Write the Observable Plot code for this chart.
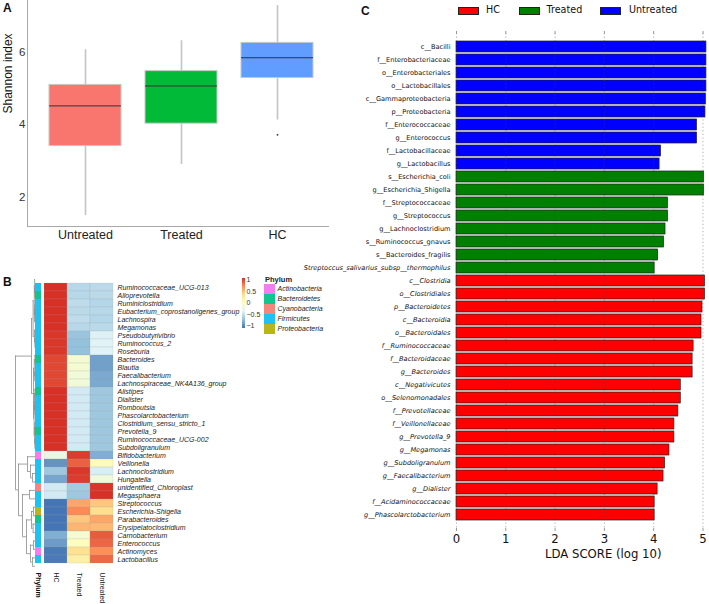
<!DOCTYPE html>
<html><head><meta charset="utf-8">
<script src="https://cdn.jsdelivr.net/npm/d3@7"></script>
<script src="https://cdn.jsdelivr.net/npm/@observablehq/plot@0.6"></script>
<style>
body{margin:0;background:#fff;}
#fig{position:relative;width:709px;height:604px;overflow:hidden;font-family:"Liberation Sans",Arial,sans-serif;color:#111;}
#fig > div{position:absolute;white-space:nowrap;}
</style></head><body><div id="fig"></div>
<script>
// ---------- Panel A: Shannon index boxplots ----------
const groupsA = ["Untreated", "Treated", "HC"];
const whiskerLowA = [1.49, 2.9, 4.13];
const q1A = [3.41, 4.03, 5.29];
const medianA = [4.52, 5.07, 5.85];
const q3A = [5.10, 5.48, 6.26];
const whiskerHighA = [6.07, 6.32, 7.29];
const outlierGroupA = ["HC"];
const outlierValueA = [3.72];
const colorsA = ["#F8766D", "#00BA38", "#619CFF"];
const ticksA = [2, 4, 6];

// ---------- Panel B: heatmap ----------
const rowsB = ["Ruminococcaceae_UCG-013","Alloprevotella","Ruminiclostridium","Eubacterium_coprostanoligenes_group","Lachnospira","Megamonas","Pseudobutyrivibrio","Ruminococcus_2","Roseburia","Bacteroides","Blautia","Faecalibacterium","Lachnospiraceae_NK4A136_group","Alistipes","Dialister","Romboutsia","Phascolarctobacterium","Clostridium_sensu_stricto_1","Prevotella_9","Ruminococcaceae_UCG-002","Subdoligranulum","Bifidobacterium","Veillonella","Lachnoclostridium","Hungatella","unidentified_Chloroplast","Megasphaera","Streptococcus","Escherichia-Shigella","Parabacteroides","Erysipelatoclostridium","Carnobacterium","Enterococcus","Actinomyces","Lactobacillus"];
const phylumB = ["Firmicutes","Bacteroidetes","Firmicutes","Firmicutes","Firmicutes","Firmicutes","Firmicutes","Firmicutes","Firmicutes","Bacteroidetes","Firmicutes","Firmicutes","Firmicutes","Bacteroidetes","Firmicutes","Firmicutes","Firmicutes","Firmicutes","Bacteroidetes","Firmicutes","Firmicutes","Actinobacteria","Firmicutes","Firmicutes","Firmicutes","Cyanobacteria","Firmicutes","Firmicutes","Proteobacteria","Bacteroidetes","Firmicutes","Firmicutes","Firmicutes","Actinobacteria","Firmicutes"];
const columnsB = ["HC", "Treated", "Untreated"];
const hcB = [1.15,1.15,1.15,1.15,1.15,1.15,1.12,1.12,1.12,1.05,1.05,1.05,1.05,1.15,1.15,1.15,1.15,1.15,1.15,1.15,1.15,-0.25,-1.0,-0.7,-0.9,-0.45,-0.45,-1.15,-1.15,-1.15,-1.15,-0.85,-0.95,-1.12,-1.12];
const treatedB = [-0.58,-0.58,-0.55,-0.57,-0.55,-0.58,-0.72,-0.75,-0.75,-0.12,-0.12,-0.17,-0.17,-0.45,-0.45,-0.45,-0.45,-0.45,-0.45,-0.45,-0.45,1.1,0.95,1.12,1.1,-0.68,-0.7,0.65,0.78,0.5,0.58,-0.12,0.02,0.36,0.2];
const untreatedB = [-0.57,-0.57,-0.6,-0.58,-0.6,-0.57,-0.4,-0.37,-0.37,-0.93,-0.93,-0.88,-0.88,-0.7,-0.7,-0.7,-0.7,-0.7,-0.7,-0.7,-0.7,-0.85,0.05,-0.42,-0.2,1.13,1.15,0.5,0.38,0.65,0.57,0.97,0.93,0.76,0.92];
const phylaB = ["Actinobacteria","Bacteroidetes","Cyanobacteria","Firmicutes","Proteobacteria"];
const phylaColorsB = ["#F47CEE","#10C68C","#F4867A","#1CC2F2","#B8B51E"];
const heatStops = [-1.15, -0.767, -0.383, 0, 0.383, 0.767, 1.15];
const heatColors = ["#4575B4","#91BFDB","#E0F3F8","#FFFFBF","#FEE090","#FC8D59","#D73027"];
const legendTicksB = [1, 0.5, 0, -0.5, -1];
// row dendrogram: [height, left, right]; leaves are row indices
const dendroB = [1.0,
  [0.2,
    [0.12,
      [0.06, [0.04, 0, [0.03, 1, 2]], [0.05, [0.03, 3, 4], 5]],
      [0.05, 6, [0.03, 7, 8]]],
    [0.1,
      [0.06, [0.03, 9, 10], [0.04, 11, 12]],
      [0.07, [0.05, [0.03, 13, 14], [0.03, 15, 16]], [0.05, [0.03, 17, 18], [0.03, 19, 20]]]]],
  [0.85,
    [0.4, 21, [0.25, 22, [0.15, 23, 24]]],
    [0.65, [0.3, 25, 26], [0.45, [0.2, [0.1, 27, 28], [0.12, 29, 30]], [0.25, [0.1, 31, 32], [0.15, 33, 34]]]]]];

// ---------- Panel C: LEfSe LDA scores ----------
const untreatedTaxaC = ["c__Bacilli","f__Enterobacteriaceae","o__Enterobacteriales","o__Lactobacillales","c__Gammaproteobacteria","p__Proteobacteria","f__Enterococcaceae","g__Enterococcus","f__Lactobacillaceae","g__Lactobacillus"];
const untreatedLdaC = [5.07,5.07,5.07,5.07,5.06,5.05,4.88,4.88,4.15,4.12];
const treatedTaxaC = ["s__Escherichia_coli","g__Escherichia_Shigella","f__Streptococcaceae","g__Streptococcus","g__Lachnoclostridium","s__Ruminococcus_gnavus","s__Bacteroides_fragilis","Streptoccus_salivarius_subsp__thermophilus"];
const treatedLdaC = [5.02,5.02,4.29,4.29,4.24,4.21,4.09,4.02];
const hcTaxaC = ["c__Clostridia","o__Clostridiales","p__Bacteroidetes","c__Bacteroidia","o__Bacteroidales","f__Ruminococcaceae","f__Bacteroidaceae","g__Bacteroides","c__Negativicutes","o__Selenomonadales","f__Prevotellaceae","f__Veillonellaceae","g__Prevotella_9","g__Megamonas","g__Subdoligranulum","g__Faecalibacterium","g__Dialister","f__Acidaminococcaceae","g__Phascolarctobacterium"];
const hcLdaC = [5.04,5.04,4.99,4.97,4.97,4.81,4.79,4.79,4.55,4.55,4.5,4.42,4.42,4.32,4.23,4.2,4.08,4.02,4.02];
const groupsC = ["HC", "Treated", "Untreated"];
const colorsC = ["#FF0000", "#008000", "#0000FF"];
const italicTaxaC = ["Streptoccus_salivarius_subsp__thermophilus"];
const ticksC = [0, 1, 2, 3, 4, 5];

// ---------- helpers ----------
const fig = document.getElementById("fig");
function add(left, top, content, css) {
  const d = document.createElement("div");
  d.style.left = left + "px"; d.style.top = top + "px";
  if (css) d.style.cssText += css;
  if (typeof content === "string") d.innerHTML = content; else if (content) d.appendChild(content);
  fig.appendChild(d);
  return d;
}
const svgStyle = (ff) => `overflow:visible;max-width:none;background:transparent;font-family:${ff};`;
const plain = d => String(d);

// ---------- Panel A ----------
const dataA = groupsA.map((g, i) => ({group: g, lo: whiskerLowA[i], q1: q1A[i], med: medianA[i], q3: q3A[i], hi: whiskerHighA[i]}));
const outA = outlierGroupA.map((g, i) => ({group: g, value: outlierValueA[i]}));
const plotA = Plot.plot({
  width: 340, height: 250, marginLeft: 27, marginRight: 12, marginTop: 0, marginBottom: 24,
  style: svgStyle("'Liberation Sans', Arial, sans-serif"),
  x: {type: "band", domain: groupsA, paddingInner: 0.246, paddingOuter: 0.1875, align: 0.59, label: null},
  y: {domain: [1.19, 7.43], label: null},
  color: {domain: groupsA, range: colorsA},
  marks: [
    Plot.ruleX(dataA, {x: "group", y1: "lo", y2: "q1", stroke: "#c4c4c4", strokeWidth: 1.6}),
    Plot.ruleX(dataA, {x: "group", y1: "q3", y2: "hi", stroke: "#c4c4c4", strokeWidth: 1.6}),
    Plot.barY(dataA, {x: "group", y1: "q1", y2: "q3", fill: "group", stroke: "#c8c8c8", strokeWidth: 1}),
    Plot.tickY(dataA, {x: "group", y: "med", stroke: "#333", strokeWidth: 1}),
    Plot.dot(outA, {x: "group", y: "value", r: 0.9, fill: "#333", stroke: null}),
    Plot.frame({anchor: "left", stroke: "#a8a8a8", strokeWidth: 1}),
    Plot.frame({anchor: "bottom", stroke: "#a8a8a8", strokeWidth: 1}),
    Plot.axisY({ticks: ticksA, tickFormat: plain, tickSize: 0, tickPadding: 2, fontSize: 11.5, fill: "#333", label: null}),
    Plot.axisX({tickSize: 0, tickPadding: 4, fontSize: 12.5, fill: "#222", label: null}),
    Plot.text(["Shannon index"], {frameAnchor: "left", rotate: -90, dx: -19, fontSize: 12, fill: "#111"})
  ]
});
add(0, 0, plotA, "width:340px;height:250px;");

// ---------- Panel B ----------
const heatData = [];
rowsB.forEach((r, i) => {
  heatData.push({row: r, col: "HC", v: hcB[i]});
  heatData.push({row: r, col: "Treated", v: treatedB[i]});
  heatData.push({row: r, col: "Untreated", v: untreatedB[i]});
});
const phylumData = rowsB.map((r, i) => ({row: r, col: "Phylum", phylum: phylumB[i]}));
const bH = 334, bTop = 5, bBottom = 34;

// dendrogram segments derived from the tree
const vSeg = [], hSeg = [];
function walk(node) {
  if (typeof node === "number") return {y: node, h: 0};
  const [h, a, b] = node;
  const A = walk(a), B = walk(b);
  vSeg.push({h, y1: A.y, y2: B.y});
  hSeg.push({y: A.y, h1: A.h, h2: h});
  hSeg.push({y: B.y, h1: B.h, h2: h});
  return {y: (A.y + B.y) / 2, h};
}
walk(dendroB);
const plotDendro = Plot.plot({
  width: 36, height: bH, marginLeft: 15, marginRight: 1, marginTop: bTop, marginBottom: bBottom,
  style: svgStyle("'Liberation Sans', Arial"),
  x: {domain: [1, 0], axis: null},
  y: {domain: [-0.5, rowsB.length - 0.5], reverse: true, axis: null},
  marks: [
    Plot.ruleX(vSeg, {x: "h", y1: "y1", y2: "y2", stroke: "#8a8a8a", strokeWidth: 0.8}),
    Plot.ruleY(hSeg, {y: "y", x1: "h1", x2: "h2", stroke: "#8a8a8a", strokeWidth: 0.8})
  ]
});
add(0, 270, plotDendro, "width:36px;height:334px;");

const plotStrip = Plot.plot({
  width: 6.5, height: bH, marginLeft: 0, marginRight: 0, marginTop: bTop, marginBottom: bBottom,
  style: svgStyle("'Liberation Sans', Arial"),
  x: {domain: ["Phylum"], padding: 0, label: null},
  y: {domain: rowsB, padding: 0, axis: null},
  color: {domain: phylaB, range: phylaColorsB},
  marks: [
    Plot.cell(phylumData, {x: "col", y: "row", fill: "phylum", inset: 0}),
    Plot.axisX({anchor: "bottom", tickSize: 0, tickPadding: 2, tickRotate: 90, fontSize: 7, fontWeight: "bold", label: null})
  ]
});
add(35, 270, plotStrip, "width:6.5px;height:334px;");

const plotHeat = Plot.plot({
  width: 350, height: bH, marginLeft: 43, marginRight: 237, marginTop: bTop, marginBottom: bBottom,
  style: svgStyle("'Liberation Sans', Arial, sans-serif"),
  x: {domain: columnsB, padding: 0, label: null},
  y: {domain: rowsB, padding: 0, label: null},
  color: {type: "linear", domain: heatStops, range: heatColors},
  marks: [
    Plot.cell(heatData, {x: "col", y: "row", fill: "v", inset: 0, stroke: "#a0a0a0", strokeWidth: 0.3, strokeOpacity: 0.6}),
    Plot.axisY({anchor: "right", tickSize: 0, tickPadding: 4, fontSize: 7, fontStyle: "italic", fill: "#222", label: null}),
    Plot.axisX({anchor: "bottom", tickSize: 0, tickPadding: 2, tickRotate: 90, fontSize: 7, fill: "#222", label: null})
  ]
});
add(0, 270, plotHeat, "width:350px;height:334px;");

// Panel B legends
const grad = heatColors.map((c, i) => `${c} ${(i / (heatColors.length - 1) * 100).toFixed(1)}%`).join(",");
add(241.5, 278, "", `width:3.5px;height:50px;background:linear-gradient(to top, ${grad});`);
legendTicksB.forEach((t) => {
  const y = 303 - t * 23;
  add(246.5, y - 4, String(t).replace("-", "\u2212"), "font-size:7px;line-height:8px;color:#333;");
});
add(265, 275.5, "Phylum", "font-size:7.5px;line-height:8px;font-weight:bold;color:#222;");
phylaB.forEach((p, i) => {
  add(264, 284 + 10 * i, "", `width:11px;height:10px;background:${phylaColorsB[i]};`);
  add(277.5, 285 + 10 * i, p, "font-size:7px;line-height:8px;font-style:italic;color:#222;");
});

// ---------- Panel C ----------
const dataC = [];
untreatedTaxaC.forEach((t, i) => dataC.push({taxon: t, lda: untreatedLdaC[i], group: "Untreated"}));
treatedTaxaC.forEach((t, i) => dataC.push({taxon: t, lda: treatedLdaC[i], group: "Treated"}));
hcTaxaC.forEach((t, i) => dataC.push({taxon: t, lda: hcLdaC[i], group: "HC"}));
dataC.forEach(d => d.italic = d.group === "HC" || italicTaxaC.includes(d.taxon));
const dejavu = "'DejaVu Sans', sans-serif";
const plotC = Plot.plot({
  width: 349, height: 604, marginLeft: 96, marginRight: 1.6, marginTop: 33, marginBottom: 76,
  style: svgStyle(dejavu),
  x: {domain: [0, 5.1], label: null},
  y: {domain: dataC.map(d => d.taxon), paddingInner: 0.15, paddingOuter: 0.41, axis: null},
  color: {domain: groupsC, range: colorsC},
  marks: [
    Plot.barX(dataC, {y: "taxon", x: "lda", fill: "group", stroke: "#222", strokeWidth: 0.7}),
    Plot.gridX({ticks: ticksC, stroke: "#444", strokeOpacity: 0.55, strokeWidth: 0.8, strokeDasharray: "1.2,2.4"}),
    Plot.axisX({anchor: "top", ticks: ticksC, tickSize: 3, tickFormat: () => "", stroke: "#999", label: null}),
    Plot.axisX({anchor: "bottom", ticks: ticksC, tickFormat: plain, tickSize: 3, tickPadding: 3, fontSize: 11.7, stroke: "#999", fill: "#111", label: null}),
    Plot.text(dataC.filter(d => !d.italic), {y: "taxon", text: "taxon", frameAnchor: "left", textAnchor: "end", dx: -6, fontSize: 6.6, fill: "#111"}),
    Plot.text(dataC.filter(d => d.italic), {y: "taxon", text: "taxon", frameAnchor: "left", textAnchor: "end", dx: -6, fontSize: 6.6, fontStyle: "italic", fill: "#111"})
  ]
});
add(360, 0, plotC, "width:349px;height:604px;");
add(545, 546, "LDA SCORE (log 10)", `font-family:${dejavu};font-size:11.7px;line-height:16px;color:#111;`);

// Panel C legend
const legX = [458, 518.5, 599.5], legTextX = [486, 546.5, 629];
groupsC.forEach((g, i) => {
  add(legX[i], 7, "", `width:21px;height:8px;box-sizing:border-box;background:${colorsC[i]};border:0.8px solid #222;`);
  add(legTextX[i], 4, g, `font-family:${dejavu};font-size:9.6px;line-height:12px;color:#111;`);
});

// panel letters
add(3, 2, "A", "font-size:12px;line-height:12px;font-weight:bold;");
add(3, 275.5, "B", "font-size:12px;line-height:12px;font-weight:bold;");
add(361, 5, "C", "font-size:12px;line-height:12px;font-weight:bold;");
</script></body></html>
